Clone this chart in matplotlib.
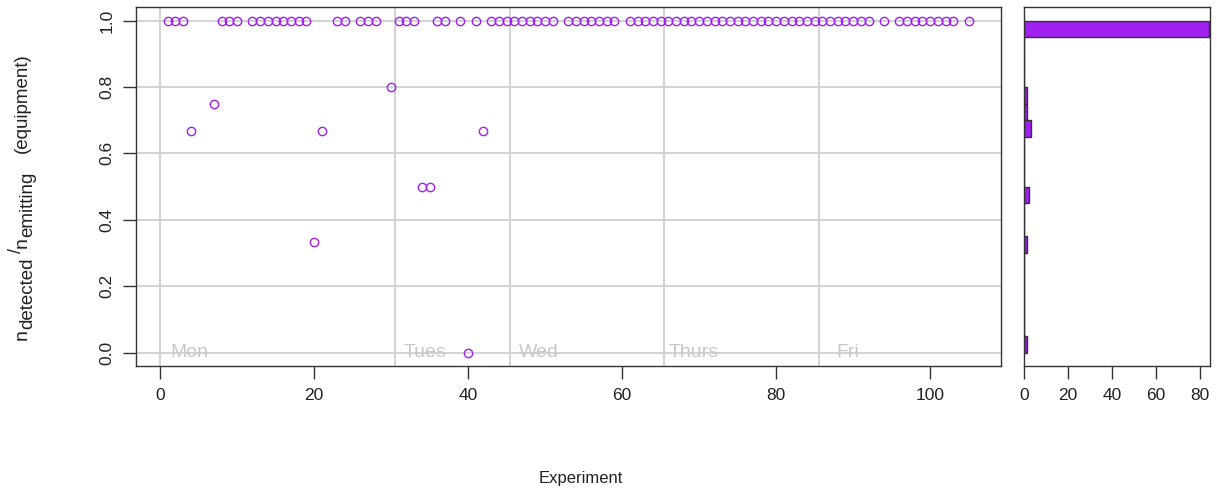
import numpy as np
import matplotlib
matplotlib.use('Agg')
import matplotlib.pyplot as plt

plt.rcParams['font.family'] = ['Liberation Sans', 'DejaVu Sans']

# experiment number -> ratio detected/emitting (nan = no value)
experiment = list(range(1, 106))
ratio = [1, 1, 1, 2/3, np.nan, np.nan, 0.75, 1, 1, 1,
         np.nan, 1, 1, 1, 1, 1, 1, 1, 1, 1/3,
         2/3, np.nan, 1, 1, np.nan, 1, 1, 1, np.nan, 0.8,
         1, 1, 1, 0.5, 0.5, 1, 1, np.nan, 1, 0.0,
         1, 2/3, 1, 1, 1, 1, 1, 1, 1, 1,
         1, np.nan, 1, 1, 1, 1, 1, 1, 1, np.nan,
         1, 1, 1, 1, 1, 1, 1, 1, 1, 1,
         1, 1, 1, 1, 1, 1, 1, 1, 1, 1,
         1, 1, 1, 1, 1, 1, 1, 1, 1, 1,
         1, 1, np.nan, 1, np.nan, 1, 1, 1, 1, 1,
         1, 1, 1, np.nan, 1]

day_names = ['Mon', 'Tues', 'Wed', 'Thurs', 'Fri']
day_starts = [0, 30.5, 45.5, 65.5, 85.5]
day_label_x = [1.4, 31.6, 46.6, 66.1, 87.8]

purple = '#A020F0'
grey = '#d3d3d3'

vals = np.array(ratio, dtype=float)
vals = vals[~np.isnan(vals)]
edges = np.round(np.linspace(0, 1, 21), 10)
# right-closed bins like R's hist
idx = np.digitize(np.round(vals, 10), edges, right=True)
idx[idx == 0] = 1
counts = np.bincount(idx - 1, minlength=20)[:20]

W, H = 1217, 495
fig = plt.figure(figsize=(W / 100, H / 100), dpi=100)
ax = fig.add_axes([0.1115, 0.2606, 0.7108, 0.7247])
axh = fig.add_axes([0.8417, 0.2606, 0.1525, 0.7247])

for y in np.arange(0, 1.01, 0.2):
    ax.axhline(y, color=grey, lw=1.4, zorder=0)
for x in day_starts:
    ax.axvline(x, color=grey, lw=1.4, zorder=0)
for x, name in zip(day_label_x, day_names):
    ax.text(x, 0, name, color='#c8c8c8', fontsize=14, va='center', ha='left', zorder=1)

ax.plot(experiment, ratio, 'o', mfc='none', mec=purple, ms=6, mew=1.0, zorder=3)

ax.set_xlim(-3.16, 109.16)
ax.set_ylim(-0.04, 1.04)
ax.set_xticks([0, 20, 40, 60, 80, 100])
ax.set_yticks([0, 0.2, 0.4, 0.6, 0.8, 1.0])
ax.set_yticklabels(['0.0', '0.2', '0.4', '0.6', '0.8', '1.0'], rotation=90, va='center')

axh.barh(edges[:-1], counts, height=0.05, align='edge', color=purple, edgecolor='#333333', lw=1)
axh.set_xlim(0, 84.6)
axh.set_ylim(-0.04, 1.04)
axh.set_yticks([])
axh.set_xticks([0, 20, 40, 60, 80])

for a in (ax, axh):
    for s in a.spines.values():
        s.set_color('#333333')
        s.set_linewidth(1.0)
    a.tick_params(length=9.5, width=1.0, color='#333333', labelsize=12.5, pad=6,
                  labelcolor='#222222')

fig.text(0.4774, 0.0343, 'Experiment', ha='center', va='center', fontsize=12, color='#222222')

# y label built piece by piece (big subscripts like R plotmath)
renderer = fig.canvas.get_renderer()
base_x = 27
pos = H - 340
pieces = [('n', 14, 0), ('detected', 13.5, 5), (' /', 13, -6), ('n', 14, 0), ('emitting', 13.5, 5)]
for s, size, dx in pieces:
    t = fig.text((base_x + dx) / W, pos / H, s, rotation=90, rotation_mode='anchor',
                 ha='left', va='baseline', fontsize=size, color='#222222')
    pos += t.get_window_extent(renderer).height
fig.text(base_x / W, 1 - 53 / H, '(equipment)',
         rotation=90, rotation_mode='anchor', ha='right', va='baseline',
         fontsize=13.5, color='#222222')

fig.savefig('out.png', dpi=100)
